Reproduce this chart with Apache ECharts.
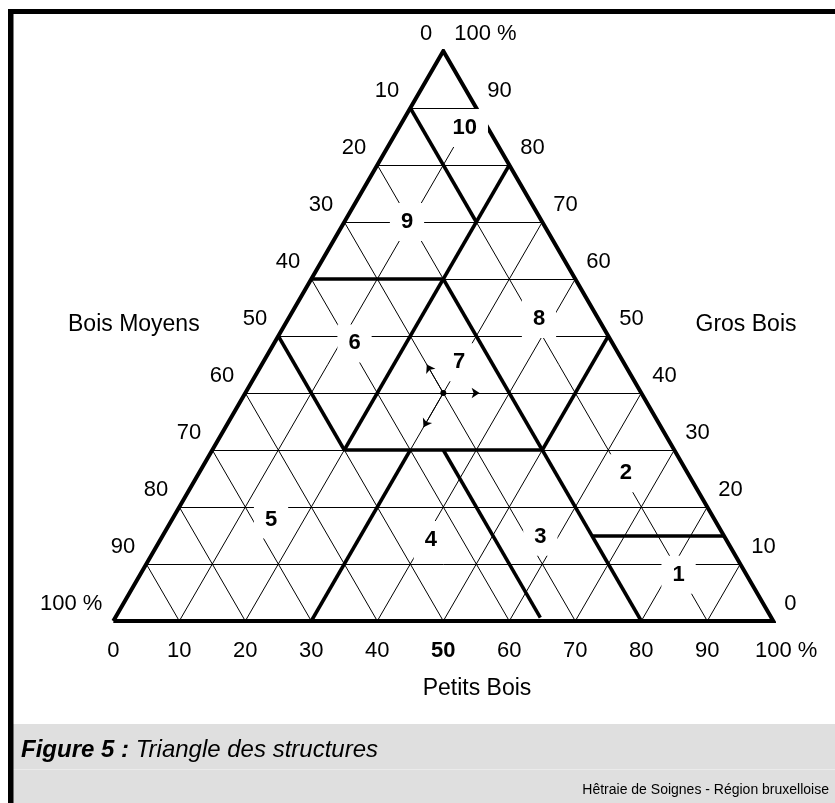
<!DOCTYPE html>
<html>
<head>
<meta charset="utf-8">
<title>Triangle des structures</title>
<script src="https://cdn.jsdelivr.net/npm/echarts@6/dist/echarts.min.js"></script>
<style>
  html, body { margin: 0; padding: 0; background: #fff; }
  #chart { width: 835px; height: 803px; }
</style>
</head>
<body>
<div id="chart"></div>
<script>
// ternary points are given as [Petits Bois %, Gros Bois %], Bois Moyens = the rest
const ticks = [0, 10, 20, 30, 40, 50, 60, 70, 80, 90, 100];
const innerTicks = [10, 20, 30, 40, 50, 60, 70, 80, 90];
const petitsLabels = ['0', '10', '20', '30', '40', '50', '60', '70', '80', '90', '100 %'];
const moyensLabels = ['0', '10', '20', '30', '40', '50', '60', '70', '80', '90', '100 %'];
const grosLabels = ['0', '10', '20', '30', '40', '50', '60', '70', '80', '90', '100 %'];

// borders between the structure types
const borders = [
  [[0, 90], [20, 70]],
  [[20, 80], [20, 30]],
  [[0, 60], [20, 60]],
  [[20, 60], [80, 0]],
  [[0, 50], [20, 30]],
  [[20, 30], [50, 30]],
  [[50, 50], [50, 30]],
  [[30, 30], [30, 0]],
  [[35, 30], [64.4, 0.6]],
  [[65, 15], [85, 15]]
];
const outline = [[0, 0], [100, 0], [0, 100], [0, 0]];

const typeNames = ['1', '2', '3', '4', '5', '6', '7', '8', '9', '10'];
const typePetits = [81.6, 64.7, 57.3, 41, 15, 12.2, 29.7, 38, 9.5, 10];
const typeGros = [8.1, 25.9, 14.8, 14.2, 17.8, 48.7, 45.4, 53, 70, 86.5];

const centre = [30, 40];
const arrowEnds = [[25, 45], [35.5, 40], [30, 34]];

const FONT = "'Liberation Sans', Arial, sans-serif";

// ternary -> plain x / y of the hidden cartesian grid
const xy = (p) => [p[0] + p[1] / 2, p[1]];

const gridSegs = [];
innerTicks.forEach(k => {
  gridSegs.push({ coords: [xy([0, k]), xy([100 - k, k])] });       // gros bois constant
  gridSegs.push({ coords: [xy([k, 0]), xy([k, 100 - k])] });       // petits bois constant
  gridSegs.push({ coords: [xy([100 - k, 0]), xy([0, 100 - k])] }); // bois moyens constant
});

const tickLabel = (align, offset) => ({
  show: true,
  position: 'inside',
  align: align,
  verticalAlign: 'middle',
  offset: offset,
  color: '#000',
  opacity: 1,
  fontFamily: FONT,
  fontSize: 22,
  formatter: '{b}'
});

const chart = echarts.init(document.getElementById('chart'));

const option = {
  animation: false,
  backgroundColor: '#fff',
  title: [
    {
      text: '{b|Figure 5 :} Triangle des structures',
      left: 21,
      top: 738,
      padding: 0,
      textStyle: {
        fontFamily: FONT,
        fontSize: 24,
        fontStyle: 'italic',
        fontWeight: 'normal',
        color: '#000',
        rich: {
          b: { fontFamily: FONT, fontSize: 24, fontStyle: 'italic', fontWeight: 'bold', color: '#000' }
        }
      }
    },
    {
      text: 'Hêtraie de Soignes - Région bruxelloise',
      right: 6,
      top: 783,
      padding: 0,
      textStyle: { fontFamily: FONT, fontSize: 14, fontWeight: 'normal', color: '#000' }
    }
  ],
  graphic: [
    { type: 'rect', z: -10, shape: { x: 13, y: 724, width: 822, height: 79 }, style: { fill: '#dfdfdf' } },
    { type: 'rect', z: -9, shape: { x: 13, y: 769, width: 822, height: 1 }, style: { fill: '#ebebeb' } },
    { type: 'rect', z: -8, shape: { x: 8, y: 9, width: 827, height: 5 }, style: { fill: '#000' } },
    { type: 'rect', z: -8, shape: { x: 8, y: 9, width: 5.5, height: 794 }, style: { fill: '#000' } },
    { type: 'text', style: { text: 'Bois Moyens', x: 68, y: 325, verticalAlign: 'middle', font: '23px ' + FONT, fill: '#000' } },
    { type: 'text', style: { text: 'Gros Bois', x: 746, y: 325, align: 'center', verticalAlign: 'middle', font: '23px ' + FONT, fill: '#000' } },
    { type: 'text', style: { text: 'Petits Bois', x: 477, y: 689, align: 'center', verticalAlign: 'middle', font: '23px ' + FONT, fill: '#000' } }
  ],
  grid: { left: 113.3, top: 51, width: 660, height: 570 },
  xAxis: { type: 'value', min: 0, max: 100, show: false },
  yAxis: { type: 'value', min: 0, max: 100, show: false },
  series: [
    {
      type: 'lines',
      coordinateSystem: 'cartesian2d',
      z: 1,
      silent: true,
      lineStyle: { color: '#000', width: 1, opacity: 1 },
      data: gridSegs
    },
    {
      type: 'lines',
      coordinateSystem: 'cartesian2d',
      z: 2,
      silent: true,
      lineStyle: { color: '#000', width: 3.5, opacity: 1, cap: 'butt' },
      data: borders.map(b => ({ coords: b.map(xy) }))
    },
    {
      type: 'lines',
      coordinateSystem: 'cartesian2d',
      polyline: true,
      z: 2,
      silent: true,
      lineStyle: { color: '#000', width: 4, opacity: 1, join: 'miter' },
      data: [{ coords: outline.map(xy) }]
    },
    {
      type: 'scatter',
      z: 10,
      symbolSize: 0,
      silent: true,
      itemStyle: { opacity: 1 },
      data: typeNames.map((n, i) => ({ name: n, value: xy([typePetits[i], typeGros[i]]) })),
      label: {
        show: true,
        position: 'inside',
        formatter: '{b}',
        color: '#000',
        opacity: 1,
        fontFamily: FONT,
        fontSize: 22,
        fontWeight: 'bold',
        backgroundColor: '#fff',
        padding: [8, 11],
        lineHeight: 22
      }
    },
    {
      type: 'lines',
      coordinateSystem: 'cartesian2d',
      z: 12,
      silent: true,
      symbol: ['none', 'arrow'],
      symbolSize: 8,
      lineStyle: { color: '#000', width: 1, opacity: 1 },
      data: arrowEnds.map(e => ({ coords: [xy(centre), xy(e)] }))
    },
    {
      type: 'scatter',
      z: 13,
      silent: true,
      symbolSize: 6,
      itemStyle: { color: '#000', opacity: 1 },
      data: [xy(centre)]
    },
    {
      // Petits Bois, along the base
      type: 'scatter',
      z: 8,
      symbolSize: 0,
      silent: true,
      itemStyle: { opacity: 1 },
      data: ticks.map((t, i) => {
        const d = { name: petitsLabels[i], value: xy([t, 0]) };
        if (t === 100) d.label = { align: 'left', offset: [-18.3, 30] };
        if (t === 50) d.label = { fontWeight: 'bold' };
        return d;
      }),
      label: tickLabel('center', [0, 30])
    },
    {
      // Bois Moyens, along the left side
      type: 'scatter',
      z: 8,
      symbolSize: 0,
      silent: true,
      itemStyle: { opacity: 1 },
      data: ticks.map((t, i) => ({ name: moyensLabels[i], value: xy([0, 100 - t]) })),
      label: tickLabel('right', [-11, -17])
    },
    {
      // Gros Bois, along the right side
      type: 'scatter',
      z: 8,
      symbolSize: 0,
      silent: true,
      itemStyle: { opacity: 1 },
      data: ticks.map((t, i) => ({ name: grosLabels[i], value: xy([100 - t, t]) })),
      label: tickLabel('left', [11, -17])
    }
  ]
};

chart.setOption(option);
</script>
</body>
</html>
